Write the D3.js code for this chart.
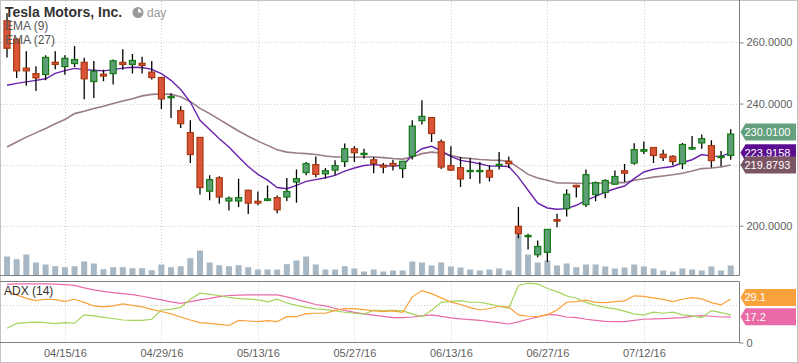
<!DOCTYPE html>
<html><head><meta charset="utf-8">
<script src="https://cdn.jsdelivr.net/npm/d3@7/dist/d3.min.js"></script>
<style>
html,body{margin:0;padding:0;background:#fff;}
svg{display:block;font-family:"Liberation Sans",Arial,sans-serif;}
</style></head><body>
<svg id="chart" width="798" height="363"></svg>
<script>
const dates = ["2016-04-07","2016-04-08","2016-04-11","2016-04-12","2016-04-13","2016-04-14","2016-04-15","2016-04-18","2016-04-19","2016-04-20","2016-04-21","2016-04-22","2016-04-25","2016-04-26","2016-04-27","2016-04-28","2016-04-29",
"2016-05-02","2016-05-03","2016-05-04","2016-05-05","2016-05-06","2016-05-09","2016-05-10","2016-05-11","2016-05-12","2016-05-13","2016-05-16","2016-05-17","2016-05-18","2016-05-19","2016-05-20","2016-05-23","2016-05-24","2016-05-25","2016-05-26","2016-05-27","2016-05-31",
"2016-06-01","2016-06-02","2016-06-03","2016-06-06","2016-06-07","2016-06-08","2016-06-09","2016-06-10","2016-06-13","2016-06-14","2016-06-15","2016-06-16","2016-06-17","2016-06-20","2016-06-21","2016-06-22","2016-06-23","2016-06-24","2016-06-27","2016-06-28","2016-06-29","2016-06-30",
"2016-07-01","2016-07-05","2016-07-06","2016-07-07","2016-07-08","2016-07-11","2016-07-12","2016-07-13","2016-07-14","2016-07-15","2016-07-18","2016-07-19","2016-07-20","2016-07-21","2016-07-22","2016-07-25"];

const open  = [267.1,261.1,251.6,249.8,249.5,253.5,252.1,253.1,253.5,247.2,249.6,249.8,253.5,252.8,253.2,250.3,248.5,241.9,237.7,230.5,228.9,211.3,215.7,208.1,208.1,211.6,208.0,208.3,209.2,209.4,214.3,217.4,220.0,217.0,218.2,221.0,225.2,223.3,221.6,219.8,220.4,218.7,222.8,234.4,235.4,227.5,219.7,219.0,217.7,217.7,218.1,219.8,221.1,199.8,196.4,190.5,191.3,202.0,205.6,213.2,206.9,210.2,210.9,213.6,218.0,220.5,224.4,225.6,223.4,222.7,220.3,225.1,227.1,226.2,222.3,223.0];
const high  = [269.6,261.3,257.1,252.2,255.8,257.1,255.8,258.8,255.0,253.9,251.1,254.4,257.8,256.2,255.3,253.9,248.7,243.4,239.1,234.5,229.0,216.5,216.2,209.6,215.4,211.8,211.2,213.2,209.9,215.6,218.4,220.9,222.7,218.9,221.4,226.9,226.0,225.2,222.5,220.5,221.6,221.1,234.5,241.1,235.6,228.2,226.0,222.5,222.2,220.9,219.8,224.1,222.7,206.1,197.4,195.2,198.8,203.9,211.9,213.4,218.4,214.5,215.2,218.1,220.2,227.0,227.6,225.6,224.9,223.1,227.1,229.4,229.9,228.0,224.5,231.6];
const low   = [255.1,248.4,245.8,244.1,247.6,251.2,249.4,252.0,241.4,241.8,247.3,246.2,251.1,249.8,249.8,247.9,238.2,235.3,232.0,220.5,210.2,208.3,207.2,205.0,206.1,203.8,206.7,208.0,204.1,208.1,207.5,216.5,215.9,215.4,216.5,219.2,220.9,222.0,217.2,217.2,218.1,215.6,221.7,233.1,227.4,218.6,217.9,212.7,215.3,213.8,214.5,218.4,218.9,195.9,192.2,189.7,188.1,199.5,203.0,209.2,206.1,208.0,209.0,213.4,214.3,220.0,223.5,220.5,221.2,219.8,218.6,224.8,225.2,219.1,219.4,221.6];
const close = [258.1,250.7,250.7,248.4,255.1,252.8,254.8,254.4,248.1,250.6,249.0,254.0,252.8,254.1,252.5,248.5,241.5,242.3,233.4,223.3,212.5,215.1,209.4,209.0,209.2,207.4,207.4,208.8,205.2,211.2,215.4,220.3,216.8,218.0,219.7,225.2,223.9,223.7,220.3,219.2,219.7,221.1,232.6,235.8,230.2,219.2,218.2,215.3,218.1,218.1,215.9,220.1,220.3,197.4,196.8,193.2,198.8,201.5,210.3,212.7,216.7,214.1,214.8,216.1,217.2,224.9,224.9,223.0,222.3,221.0,226.6,225.6,228.5,221.3,222.7,230.01];
const volume = [19,16.3,21,13,11,9.3,8.3,9.3,14,12,6.3,8.3,8.3,7.3,7.3,5.3,11,8.3,9.3,17.3,25,13,10.3,9.3,10.3,8.3,6,6,6,11.3,15,19,11,6,6,9.3,7,4,6,4,5,5,14,13,10,13,9,8,6,5,6,7,5,41,21,13,15,10,12,8.3,11,11,9,7,8,11,9,7,5,4,7,6,5,9,5,10];
const ema9 = [246.0,246.6,247.1,247.6,248.1,249.9,250.8,251.5,251.1,250.9,250.7,251.1,251.6,251.9,251.8,251.2,249.8,247.6,244.6,240.5,234.5,231.5,228.5,225.8,222.5,219.4,216.8,214.9,212.5,212.1,213.2,214.5,215.1,215.7,216.5,217.9,218.9,219.7,220.0,219.7,219.5,219.8,223.0,225.2,226.0,224.5,222.7,221.4,220.9,220.3,219.5,219.5,219.4,215.9,211.6,207.4,205.8,205.4,205.6,206.7,208.3,209.6,211.0,212.1,213.0,215.4,217.6,218.5,219.0,219.4,220.7,221.6,223.3,222.8,222.7,223.9158];
const ema27 = [225.8,227.4,229.0,230.4,231.8,233.4,234.8,236.7,237.5,238.4,239.1,240.0,240.8,241.6,242.5,243.0,243.1,243.0,242.2,240.6,238.4,236.7,234.8,232.9,231.0,229.3,227.7,226.3,224.9,224.1,223.8,223.6,223.3,222.8,222.5,222.5,222.4,222.5,222.5,222.3,222.0,221.8,222.5,223.6,224.1,223.8,223.0,222.3,222.0,221.7,221.5,221.4,221.1,219.0,216.8,215.6,214.9,214.0,214.0,213.9,213.8,213.9,214.0,214.1,214.1,214.9,215.4,215.9,216.3,216.7,217.2,217.9,218.7,218.9,219.2,219.8793];
const adx = [39.0,39.3,39.3,39.3,39.3,39.1,38.8,38.3,36.6,35.3,34.3,33.5,32.8,32.1,31.0,29.7,28.6,27.2,26.3,27.4,28.6,29.6,30.8,31.5,31.7,31.9,31.9,31.9,31.9,30.6,28.9,27.2,25.5,24.5,22.8,21.5,20.2,19.2,18.3,17.5,16.7,16.7,17.1,17.8,18.5,17.5,16.5,15.8,15.3,14.9,14.0,13.3,12.4,13.8,15.6,17.1,18.8,18.3,17.1,16.7,15.6,14.8,14.1,14.0,14.0,14.8,15.6,15.8,16.0,16.3,16.7,17.5,18.0,17.6,17.1,17.2];
const diPlus = [34.6,31.9,29.6,28.1,29.0,28.8,27.6,29.0,26.9,24.5,23.9,24.5,25.9,24.9,23.9,22.2,20.8,19.2,17.1,15.1,13.3,12.8,12.1,11.4,14.8,14.4,14.0,14.7,14.0,17.3,17.3,19.4,19.6,19.6,21.5,22.8,22.7,22.0,21.2,20.7,21.2,20.2,30.6,34.8,32.8,29.9,27.2,25.5,23.4,21.8,22.8,24.3,23.7,18.5,17.6,17.3,18.5,21.8,27.0,27.4,28.4,26.9,26.7,27.4,27.9,31.3,30.9,29.9,28.9,27.4,29.0,30.1,29.2,26.7,25.2,29.1];
const diMinus = [9.5,12.8,13.3,13.6,13.3,12.6,13.3,12.9,18.5,17.8,16.9,16.1,15.1,14.8,14.8,15.6,21.8,22.2,23.5,29.0,33.1,32.3,31.5,30.2,29.4,29.1,28.6,27.2,29.0,26.5,24.9,23.5,22.5,22.0,21.2,20.3,19.6,19.0,21.6,21.4,21.6,21.2,19.2,17.3,21.6,26.9,27.6,28.1,27.0,27.0,25.7,24.3,23.0,38.2,39.7,39.3,36.2,34.1,31.3,29.7,26.9,24.9,23.5,22.5,21.0,19.0,18.5,20.3,19.6,20.3,18.5,17.8,16.7,21.4,20.0,18.5];
const dateTicks = ["2016-04-15","2016-04-29","2016-05-13","2016-05-27","2016-06-13","2016-06-27","2016-07-12"];
const priceTicks = [200,220,240,260];
const adxTicks = [0];
const adxGrid = [25];

const svg = d3.select("#chart");
const W = 798, H = 363;
const right = 739.5;
const mainTop = 0, mainBottom = 275.5;
const adxTop = 281.5, adxBottom = 342.5;

const x = d3.scalePoint().domain(dates).range([7, 730.7]);
const y = d3.scaleLinear().domain([183.7, 273.9]).range([mainBottom, mainTop]);
const yv = d3.scaleLinear().domain([0, 100]).range([mainBottom, mainBottom - 100]);
const ya = d3.scaleLinear().domain([0, 40.9]).range([adxBottom, adxTop]);
const parse = d3.timeParse("%Y-%m-%d");
const fmt = d3.timeFormat("%m/%d/%y");

// outer frame
svg.append("rect").attr("x",0.5).attr("y",0.5).attr("width",W-1).attr("height",H-1)
  .attr("fill","#fff").attr("stroke","#c4c4c4");

const grid = "#cfcfcf";
svg.append("g").selectAll("line").data(priceTicks).join("line")
  .attr("x1",1).attr("x2",right).attr("y1",d=>Math.round(y(d))+0.5).attr("y2",d=>Math.round(y(d))+0.5)
  .attr("stroke",grid).attr("stroke-dasharray","1,2");
svg.append("g").selectAll("line").data(dateTicks).join("line")
  .attr("x1",d=>Math.round(x(d))+0.5).attr("x2",d=>Math.round(x(d))+0.5).attr("y1",1).attr("y2",mainBottom)
  .attr("stroke",grid).attr("stroke-dasharray","1,2");
svg.append("g").selectAll("line").data(adxGrid).join("line")
  .attr("x1",1).attr("x2",right).attr("y1",d=>Math.round(ya(d))+0.5).attr("y2",d=>Math.round(ya(d))+0.5)
  .attr("stroke",grid).attr("stroke-dasharray","1,2");
svg.append("g").selectAll("line").data(dateTicks).join("line")
  .attr("x1",d=>Math.round(x(d))+0.5).attr("x2",d=>Math.round(x(d))+0.5).attr("y1",adxTop).attr("y2",adxBottom)
  .attr("stroke",grid).attr("stroke-dasharray","1,2");

// volume
svg.append("g").selectAll("rect").data(dates).join("rect")
  .attr("x",d=>x(d)-3).attr("width",6)
  .attr("y",(d,i)=>yv(volume[i])).attr("height",(d,i)=>yv(0)-yv(volume[i]))
  .attr("fill","#a7b7c4");

svg.append("clipPath").attr("id","mainclip").append("rect").attr("x",1).attr("y",1).attr("width",right-1).attr("height",mainBottom-1);
const main = svg.append("g").attr("clip-path","url(#mainclip)");

const line = d3.line().x((d,i)=>x(dates[i])).y(d=>y(d)).curve(d3.curveLinear);
main.append("path").datum(ema27).attr("d",line).attr("fill","none").attr("stroke","#9a7b88").attr("stroke-width",1.6);
main.append("path").datum(ema9).attr("d",line).attr("fill","none").attr("stroke","#6a22ad").attr("stroke-width",1.4);

const cg = main.append("g");
dates.forEach((d,i)=>{
  const cx = x(d);
  const up = close[i] >= open[i];
  cg.append("line").attr("x1",cx).attr("x2",cx).attr("y1",y(high[i])).attr("y2",y(low[i]))
    .attr("stroke","#000").attr("stroke-width",1.3);
  const top = y(Math.max(open[i],close[i])), bot = y(Math.min(open[i],close[i]));
  const h = Math.max(bot-top, 1);
  cg.append("rect").attr("x",cx-3).attr("width",6).attr("y",top).attr("height",h)
    .attr("fill", up ? "#5e9e76" : "#da543a")
    .attr("stroke", up ? "#117a11" : "#a8390f").attr("stroke-width",1.2);
});

svg.append("line").attr("x1",0).attr("x2",right).attr("y1",mainBottom).attr("y2",mainBottom).attr("stroke","#808080");
svg.append("line").attr("x1",0).attr("x2",right).attr("y1",adxTop).attr("y2",adxTop).attr("stroke","#808080");
svg.append("line").attr("x1",0).attr("x2",right).attr("y1",adxBottom).attr("y2",adxBottom).attr("stroke","#808080");

const yAxis = d3.axisRight(y).tickValues(priceTicks).tickFormat(d3.format(".4f")).tickSize(4).tickPadding(3);
const ga = svg.append("g").attr("transform",`translate(${right},0)`).call(yAxis);
ga.select(".domain").remove();
svg.append("line").attr("x1",right).attr("x2",right).attr("y1",0).attr("y2",mainBottom).attr("stroke","#808080");
const aAxis = d3.axisRight(ya).tickValues(adxTicks).tickSize(4).tickPadding(3);
const gb = svg.append("g").attr("transform",`translate(${right},0)`).call(aAxis);
gb.select(".domain").remove();
svg.append("line").attr("x1",right).attr("x2",right).attr("y1",adxTop).attr("y2",adxBottom).attr("stroke","#808080");
const xAxis = d3.axisBottom(x).tickValues(dateTicks).tickFormat(d=>fmt(parse(d))).tickSize(0).tickPadding(7);
const gx = svg.append("g").attr("transform",`translate(0,${adxBottom})`).call(xAxis);
gx.select(".domain").remove();
[ga,gb,gx].forEach(g=>{
  g.selectAll("text").attr("fill","#606060").style("font-size","11px").style("font-family","'Liberation Sans',Arial,sans-serif");
  g.selectAll("line").attr("stroke","#808080");
});

svg.append("clipPath").attr("id","adxclip").append("rect").attr("x",1).attr("y",adxTop).attr("width",right-1).attr("height",adxBottom-adxTop);
const ag = svg.append("g").attr("clip-path","url(#adxclip)");
const aline = d3.line().x((d,i)=>x(dates[i])).y(d=>ya(d));
ag.append("path").datum(adx).attr("d",aline).attr("fill","none").attr("stroke","#e96aa7").attr("stroke-width",1.2);
ag.append("path").datum(diMinus).attr("d",aline).attr("fill","none").attr("stroke","#a5d45c").attr("stroke-width",1.2);
ag.append("path").datum(diPlus).attr("d",aline).attr("fill","none").attr("stroke","#f9a13a").attr("stroke-width",1.2);

// value tags
function tag(yc, color, text){
  const g = svg.append("g");
  const h = 8.5;
  g.append("path").attr("d",`M${right+1},${yc} L${right+6},${yc-h} L796,${yc-h} L796,${yc+h} L${right+6},${yc+h} Z`).attr("fill",color);
  g.append("text").attr("x",right+5).attr("y",yc).attr("dy","0.35em").attr("fill","#fff")
    .style("font-size","11px").text(text);
}
tag(y(close[close.length-1])-2, "#64a07e", d3.format(".4f")(close[close.length-1]));
tag(y(ema9[ema9.length-1]), "#5b0e90", d3.format(".4f")(ema9[ema9.length-1]));
tag(y(ema27[ema27.length-1]), "#7b5564", d3.format(".4f")(ema27[ema27.length-1]));
tag(ya(diPlus[diPlus.length-1])-1.5, "#f9a13a", d3.format(".1f")(diPlus[diPlus.length-1]));
tag(ya(adx[adx.length-1]), "#e96aa7", d3.format(".1f")(adx[adx.length-1]));

svg.append("text").attr("x",5).attr("y",17).attr("fill","#333").style("font-size","14px").style("font-weight","bold").text("Tesla Motors, Inc.");
const ic = svg.append("g").attr("transform","translate(138,12.5)");
ic.append("circle").attr("r",4.6).attr("fill","none").attr("stroke","#9a9a9a").attr("stroke-width",1.8);
ic.append("path").attr("d",d3.arc()({innerRadius:0,outerRadius:4.6,startAngle:Math.PI/2,endAngle:2*Math.PI})).attr("fill","#9a9a9a");
svg.append("text").attr("x",147).attr("y",17).attr("fill","#9a9a9a").style("font-size","12px").text("day");
svg.append("text").attr("x",5).attr("y",30).attr("fill","#555").style("font-size","12px").text("EMA (9)");
svg.append("text").attr("x",5).attr("y",44).attr("fill","#555").style("font-size","12px").text("EMA (27)");
svg.append("text").attr("x",4).attr("y",295).attr("fill","#333").style("font-size","12px").text("ADX (14)");
</script>
</body></html>
